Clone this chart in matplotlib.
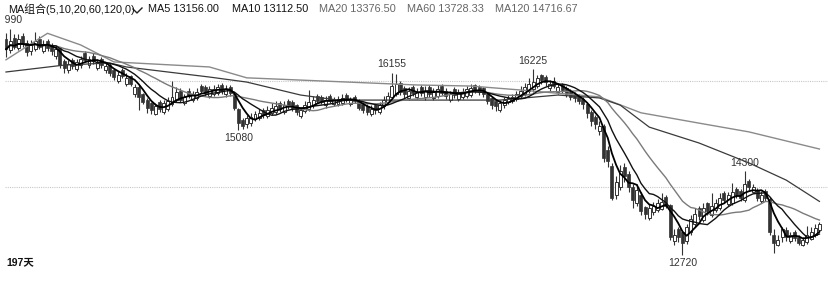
import matplotlib
matplotlib.use("Agg")
import matplotlib.pyplot as plt
from matplotlib.lines import Line2D
import numpy as np
import pandas as pd

# ---------------- data ----------------
opens = [
    16800, 16580, 16820, 16620, 16850, 16720, 16560, 16600, 16800, 16560,
    16760, 16680, 16480, 16620, 16380, 16200, 16400, 16220, 16300, 16520,
    16300, 16480, 16250, 16420, 16200, 16300, 16200, 16000, 16200, 15950,
    16100, 15760, 15880, 15750, 15650, 15580, 15380, 15600, 15420, 15480,
    15560, 15640, 15820, 15580, 15820, 15640, 15680, 15900, 15880, 15720,
    15760, 15780, 15920, 15760, 15880, 15760, 15480, 15260, 15180, 15200,
    15280, 15300, 15460, 15340, 15400, 15420, 15580, 15420, 15620, 15600,
    15540, 15340, 15440, 15480, 15540, 15720, 15700, 15540, 15720, 15560,
    15560, 15580, 15740, 15560, 15700, 15620, 15560, 15520, 15380, 15540,
    15420, 15520, 15600, 15700, 15760, 15960, 15860, 15680, 15880, 15700,
    15880, 15700, 15880, 15680, 15720, 15900, 15820, 15640, 15840, 15660,
    15700, 15720, 15740, 15920, 15880, 15860, 15760, 15680, 15620, 15460,
    15540, 15600, 15620, 15660, 15720, 15760, 15820, 15840, 15900, 16120,
    16080, 15860, 16000, 15800, 15920, 15860, 15800, 15760, 15720, 15660,
    15560, 15420, 15320, 15060, 15160, 14700, 14400, 13850, 14000, 14380,
    14250, 14000, 13700, 13850, 13620, 13420, 13520, 13560, 13580, 13820,
    13660, 12980, 13200, 13150, 12980, 13150, 13300, 13600, 13380, 13700,
    13480, 13560, 13600, 13880, 13680, 13700, 13960, 13920, 13760, 14120,
    13900, 13950, 13740, 13920, 13780, 13100, 12900, 13050, 13180, 12980,
    13150, 13060, 12900, 12960, 13020, 13100, 13180,
]
closes = [
    16600, 16750, 16650, 16800, 16700, 16550, 16700, 16750, 16650, 16700,
    16620, 16560, 16600, 16300, 16250, 16330, 16280, 16350, 16420, 16400,
    16420, 16380, 16350, 16300, 16280, 16150, 16080, 16120, 16100, 16060,
    15950, 15880, 15700, 15600, 15500, 15450, 15520, 15480, 15580, 15620,
    15700, 15800, 15650, 15700, 15720, 15760, 15800, 15820, 15780, 15840,
    15850, 15880, 15820, 15850, 15780, 15500, 15200, 15150, 15300, 15320,
    15380, 15400, 15350, 15450, 15500, 15520, 15480, 15550, 15530, 15500,
    15420, 15450, 15550, 15600, 15650, 15620, 15600, 15650, 15620, 15640,
    15660, 15680, 15650, 15640, 15620, 15500, 15450, 15420, 15480, 15450,
    15550, 15650, 15720, 15900, 15950, 15800, 15750, 15820, 15780, 15800,
    15780, 15820, 15760, 15800, 15840, 15780, 15720, 15760, 15740, 15780,
    15800, 15840, 15860, 15820, 15800, 15760, 15620, 15550, 15520, 15580,
    15640, 15680, 15700, 15760, 15820, 15880, 15950, 15980, 16050, 16020,
    15980, 15940, 15900, 15880, 15830, 15760, 15700, 15680, 15620, 15560,
    15400, 15250, 15180, 15150, 14550, 14500, 13800, 14100, 14300, 14200,
    14000, 13750, 13950, 13550, 13500, 13600, 13650, 13700, 13720, 13650,
    13050, 13100, 13050, 12950, 13250, 13400, 13500, 13450, 13600, 13550,
    13650, 13700, 13800, 13750, 13850, 13900, 13850, 13800, 14050, 14000,
    14000, 13800, 13850, 13800, 13150, 12950, 13005, 13200, 13050, 13100,
    13045, 12950, 13000, 13100, 13150, 13230, 13300,
]
highs = [
    16900, 16990, 16880, 16880, 16900, 16780, 16780, 16930, 16850, 16780,
    16800, 16720, 16680, 16650, 16420, 16400, 16440, 16420, 16480, 16560,
    16480, 16520, 16420, 16450, 16350, 16340, 16240, 16180, 16240, 16150,
    16120, 15940, 15920, 15780, 15680, 15600, 15580, 15640, 15650, 15700,
    16000, 15880, 15860, 15760, 15860, 15820, 15860, 15940, 15920, 15900,
    15920, 15940, 15960, 15920, 15920, 15790, 15500, 15300, 15360, 15400,
    15440, 15480, 15500, 15520, 15580, 15620, 15620, 15620, 15660, 15640,
    15560, 15500, 15620, 15830, 15720, 15760, 15740, 15720, 15760, 15700,
    15720, 15760, 15780, 15700, 15740, 15660, 15600, 15560, 15540, 15580,
    15600, 15720, 15800, 16155, 16140, 16000, 15900, 15880, 15920, 15860,
    15920, 15900, 15920, 15860, 15920, 15940, 15860, 15820, 15880, 15840,
    15860, 15900, 15940, 15940, 15920, 15880, 15800, 15700, 15640, 15640,
    15700, 15740, 15760, 15820, 15900, 15960, 16050, 16225, 16120, 16140,
    16120, 16020, 16080, 15960, 15960, 15900, 15840, 15800, 15760, 15700,
    15600, 15450, 15360, 15250, 15180, 14780, 14450, 14200, 14420, 14450,
    14300, 14050, 14050, 13900, 13650, 13680, 13720, 13780, 13880, 13850,
    13680, 13200, 13250, 13180, 13300, 13480, 13600, 13650, 13700, 13720,
    13880, 13780, 13880, 13920, 13900, 14080, 14000, 13960, 14300, 14150,
    14060, 13980, 13920, 13960, 13810, 13200, 13100, 13250, 13240, 13160,
    13180, 13100, 13060, 13260, 13250, 13300, 13340,
]
lows = [
    16450, 16520, 16600, 16580, 16650, 16480, 16500, 16560, 16600, 16520,
    16560, 16500, 16420, 16250, 16150, 16150, 16220, 16180, 16250, 16350,
    16250, 16320, 16200, 16250, 16150, 16100, 16020, 15960, 16050, 15900,
    15900, 15700, 15450, 15560, 15400, 15380, 15350, 15420, 15380, 15440,
    15520, 15600, 15600, 15540, 15680, 15600, 15650, 15780, 15720, 15680,
    15720, 15740, 15760, 15700, 15720, 15450, 15080, 15100, 15120, 15160,
    15240, 15260, 15300, 15300, 15360, 15380, 15420, 15380, 15480, 15440,
    15360, 15300, 15400, 15440, 15500, 15580, 15560, 15500, 15580, 15520,
    15520, 15540, 15600, 15520, 15580, 15450, 15400, 15350, 15340, 15380,
    15380, 15480, 15560, 15680, 15720, 15740, 15680, 15640, 15720, 15660,
    15720, 15640, 15700, 15640, 15680, 15740, 15660, 15600, 15680, 15620,
    15660, 15680, 15700, 15780, 15740, 15700, 15560, 15480, 15440, 15420,
    15500, 15560, 15580, 15620, 15680, 15720, 15780, 15800, 15860, 15940,
    15900, 15820, 15860, 15760, 15780, 15700, 15640, 15600, 15560, 15480,
    15300, 15150, 15100, 14980, 14480, 14380, 13760, 13780, 13950, 14100,
    13900, 13600, 13650, 13480, 13400, 13380, 13480, 13520, 13560, 13600,
    13000, 12900, 12960, 12720, 12920, 13100, 13250, 13380, 13340, 13480,
    13440, 13520, 13560, 13700, 13640, 13660, 13800, 13740, 13720, 13940,
    13880, 13740, 13700, 13740, 13100, 12760, 12880, 12960, 12980, 12940,
    12980, 12900, 12880, 12920, 13000, 13060, 13160,
]

# slow averages at some days (day index, value)
ma60_days = [0, 14, 25, 29, 49, 58, 71, 80, 99, 119, 133, 143, 148, 155, 167, 179, 188, 196]
ma60_vals = [16170, 16300, 16340, 16265, 16075, 15980, 15735, 15640, 15640, 15640,
             15735, 15680, 15545, 15130, 14830, 14455, 14130, 13728.33]
ma120_days = [0, 10, 18, 26, 49, 58, 99, 112, 124, 143, 153, 167, 179, 196]
ma120_vals = [16400, 16900, 16680, 16360, 16265, 16060, 15925, 15905, 15830, 15700,
              15400, 15205, 15040, 14716.67]

peak_labels = ["16990", "16155", "16225", "15080", "12720", "14300"]
peak_days = [1, 93, 127, 56, 163, 178]
peak_is_high = [True, True, True, False, False, True]

legend_texts = ["MA5 13156.00", "MA10 13112.50", "MA20 13376.50", "MA60 13728.33", "MA120 14716.67"]
title_text = "MA组合(5,10,20,60,120,0)"
days_text = "197天"

# ---------------- drawing ----------------
W, H = 829, 305
fig = plt.figure(figsize=(W / 100, H / 100), dpi=100)
fig.patch.set_facecolor("white")
ax = fig.add_axes([5 / W, 0, 1 - 5 / W, 1])
ax.set_axis_off()

n = len(closes)
x = np.arange(n)
o = np.array(opens, float)
c = np.array(closes, float)
hi = np.array(highs, float)
lo = np.array(lows, float)

ax.set_xlim(-0.241, 198.31)
ax.set_ylim(11773.6, 17528.3)

# grid lines
for g in (16000, 14000):
    ax.axhline(g, color="#c8c8c8", lw=0.8, ls=(0, (1, 1)), zorder=0)

dark = "#333333"
ax.vlines(x, lo, hi, color=dark, lw=0.8, zorder=2)
up = c >= o
body_bottom = np.minimum(o, c)
body_h = np.maximum(np.abs(c - o), 15)
ax.bar(x[up], body_h[up], bottom=body_bottom[up], width=0.72,
       facecolor="white", edgecolor=dark, linewidth=0.7, zorder=3)
ax.bar(x[~up], body_h[~up], bottom=body_bottom[~up], width=0.72,
       facecolor=dark, edgecolor=dark, linewidth=0.5, zorder=3)

s = pd.Series(c)
ma5 = s.rolling(5, min_periods=1).mean()
ma10 = s.rolling(10, min_periods=1).mean()
ma20 = s.rolling(20, min_periods=1).mean()

ax.plot(ma120_days, ma120_vals, color="#8a8a8a", lw=1.0, zorder=4)
ax.plot(ma60_days, ma60_vals, color="#3a3a3a", lw=0.9, zorder=4)
ax.plot(x, ma20, color="#7a7a7a", lw=1.0, zorder=4)
ax.plot(x, ma10, color="#111111", lw=1.0, zorder=5)
ax.plot(x, ma5, color="#000000", lw=1.3, zorder=5)

lab_font = dict(family=["Liberation Sans", "DejaVu Sans"], fontsize=7.5, color="#333333")
for txt, d, is_hi in zip(peak_labels, peak_days, peak_is_high):
    dx = -1.5 if d == 1 else 0
    if is_hi:
        ax.annotate(txt, (d, hi[d]), xytext=(dx, 2.5), textcoords="offset points",
                    ha="center", va="bottom", annotation_clip=False, clip_on=True, **lab_font)
    else:
        ax.annotate(txt, (d, lo[d]), xytext=(dx, -2.5), textcoords="offset points",
                    ha="center", va="top", annotation_clip=False, clip_on=True, **lab_font)

# header
fam = ["Liberation Sans", "Noto Sans CJK SC", "DejaVu Sans"]
fig.text(8 / W, 1 - 9.5 / H, title_text, family=fam, fontsize=7.8, color="#111111",
         ha="left", va="center")
fig.add_artist(Line2D([133 / W, 137 / W, 142 / W], [1 - 9 / H, 1 - 13 / H, 1 - 8 / H],
                      transform=fig.transFigure, color="#222222", lw=1.0))
leg_x = [148, 232, 319, 407, 495]
leg_col = ["#111111", "#111111", "#666666", "#666666", "#666666"]
for t, lx, col in zip(legend_texts, leg_x, leg_col):
    fig.text(lx / W, 1 - 9.5 / H, t, family=fam, fontsize=7.8, color=col, ha="left", va="center")

fig.text(6 / W, 1 - 262 / H, days_text, family=fam, fontsize=7.5, color="#111111",
         ha="left", va="center", fontweight="bold")

fig.savefig("out.png", dpi=100, facecolor="white")
